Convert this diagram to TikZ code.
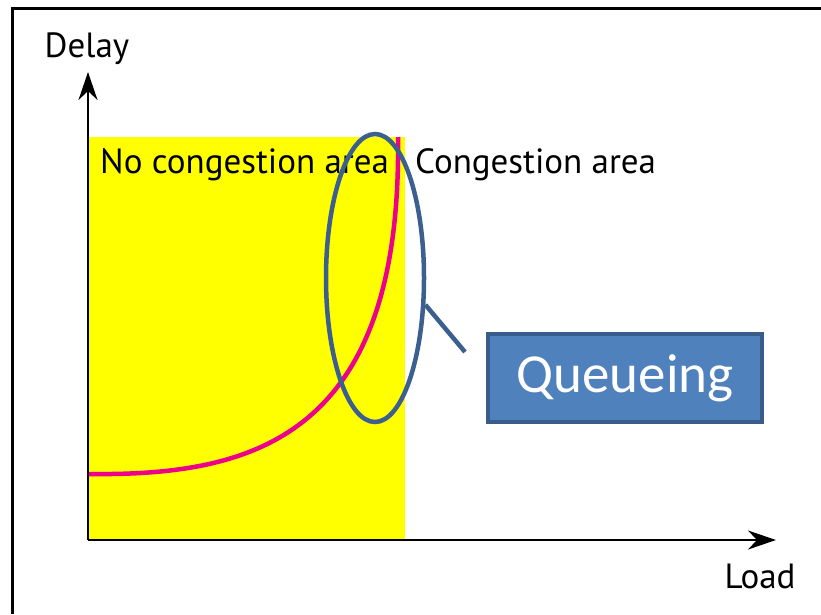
\documentclass[tikz,border=0pt]{standalone}
\usepackage{fontspec}
\setmainfont{PT Sans}
\newfontfamily\boxfont{Carlito}
\usepackage{xcolor}
\usetikzlibrary{arrows.meta,shapes.geometric,positioning}

\definecolor{areayellow}{RGB}{255,255,0}
\definecolor{curvepink}{RGB}{236,0,140}
\definecolor{ringblue}{RGB}{59,96,143}
\definecolor{boxfill}{RGB}{79,129,189}
\definecolor{boxline}{RGB}{56,93,138}

\begin{document}
\begin{tikzpicture}
			[x=1pt,y=-1pt,
			axis/.style={line width=2pt,-{Stealth[length=28pt,width=19pt,inset=9pt]}},
			label/.style={inner sep=0pt,font=\fontsize{35}{38}\selectfont},
			area/.style={inner sep=0pt,anchor=west,font=\fontsize{35}{38}\selectfont},
			ring/.style={ellipse,draw=ringblue,line width=4.5pt,minimum width=98pt,minimum height=288pt,inner sep=0pt},
			callout/.style={draw=boxline,fill=boxfill,line width=3.5pt,minimum width=274pt,minimum height=88pt,
				text=white,font=\boxfont\fontsize{55}{60}\selectfont}]
			\useasboundingbox (0,0) rectangle (821,614);
			\draw[line width=3pt] (12,614) -- (12,8) -- (821,8);
			% yellow region and curve
			\fill[areayellow] (88,137) rectangle (405,540);
			\draw[curvepink,line width=4.5pt] (88,474) .. controls (250,476) and (402,440) .. (398,137);
			% axes
			\coordinate (origin) at (88,540);
			\coordinate (ytip) at (88,72);
			\coordinate (xtip) at (776,540);
			\draw[axis] (origin) -- (ytip);
			\draw[axis] (origin) -- (xtip);
			\node[label] (delay) at (87,49) {Delay};
			\node[label] (load) at (760,576) {Load};
			\node[area] (calm) at (100,165) {No congestion area};
			\node[area] (busy) at (415,165) {Congestion area};
			% queueing callout
			\node[ring] (queue) at (375,278) {};
			\node[callout] (qbox) at (625,378) {Queueing};
			\coordinate (tail) at (465,352);
			\draw[ringblue,line width=4.5pt] (queue.-28) -- (tail);
		\end{tikzpicture}
\end{document}
